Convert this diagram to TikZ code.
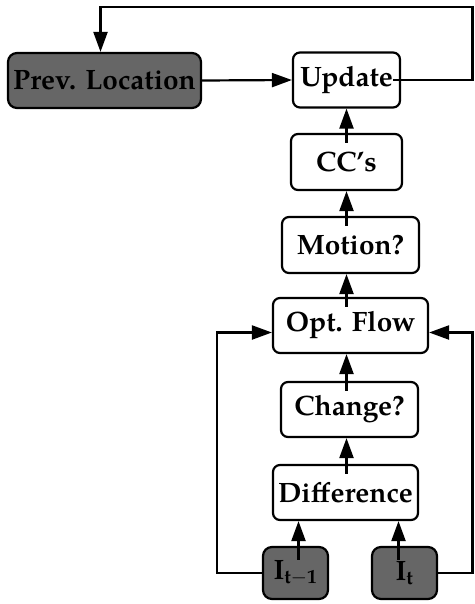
\documentclass[tikz,border=0pt]{standalone}
\usepackage{fontspec}
\setmainfont{TeX Gyre Pagella}
\usetikzlibrary{arrows.meta}

\tikzset{
  blk/.style={draw, fill=white, line width=2.2pt, rounded corners=7pt,
    minimum height=55pt, inner sep=0pt, font=\fontsize{28}{32}\selectfont\bfseries},
  img/.style={blk, fill=black!60, rounded corners=9pt},
  flow/.style={line width=2.2pt, -{Triangle[length=20pt,width=14pt]}},
}

\begin{document}
\begin{tikzpicture}[x=1pt,y=1pt]
  \useasboundingbox (0,0) rectangle (474,-604);

  % boxes, top to bottom
  \node[img, minimum width=193pt] (prev) at (104.5,-80.5) {Prev. Location};
  \node[blk, minimum width=107pt] (update) at (346.5,-80) {Update};
  \node[blk, minimum width=111pt, minimum height=56pt] (ccs) at (346.5,-162) {CC's};
  \node[blk, minimum width=137pt, minimum height=56pt] (motion) at (350.5,-245) {Motion?};
  \node[blk, minimum width=155pt] (flow) at (350.5,-325.5) {Opt. Flow};
  \node[blk, minimum width=137pt] (change) at (349.5,-409.5) {Change?};
  \node[blk, minimum width=145pt] (diff) at (345.5,-492.5) {Difference};
  \node[img, minimum width=65pt, minimum height=52pt] (imprev) at (295.5,-573) {$\mathbf{I}_{\mathbf{t-1}}$};
  \node[img, minimum width=65pt, minimum height=52pt] (imcur) at (404.5,-573) {$\mathbf{I}_{\mathbf{t}}$};

  \coordinate (rx) at (472.5,-7);
  \coordinate (lx) at (217,-573);

  % upward chain
  \draw[flow] ([yshift=-10pt]ccs.north -| update) -- (update.south);
  \draw[flow] ([yshift=-10pt]motion.north -| update) -- (ccs.south);
  \draw[flow] ([yshift=-10pt]flow.north -| update) -- (motion.south -| update);
  \draw[flow] ([yshift=-10pt]change.north -| update) -- (flow.south -| update);
  \draw[flow] ([yshift=-10pt]diff.north -| update) -- (change.south -| update);
  \draw[flow] ([xshift=3pt,yshift=-14pt]imprev.north) -- ([xshift=3pt]imprev.north |- diff.south);
  \draw[flow] ([xshift=-6pt,yshift=-14pt]imcur.north) -- ([xshift=-6pt]imcur.north |- diff.south);

  % frames into the flow box
  \draw[flow] (imprev.west) -| (lx) |- ([yshift=-7pt]flow.west);
  \draw[flow] (imcur.east) -| (rx |- imcur) |- ([yshift=-7pt]flow.east);

  % location feedback
  \draw[flow] (prev.east) -- (update.west);
  \draw[flow] ([xshift=-8pt]update.east) -| (rx) -| ([xshift=-4pt]prev.north);
\end{tikzpicture}
\end{document}
